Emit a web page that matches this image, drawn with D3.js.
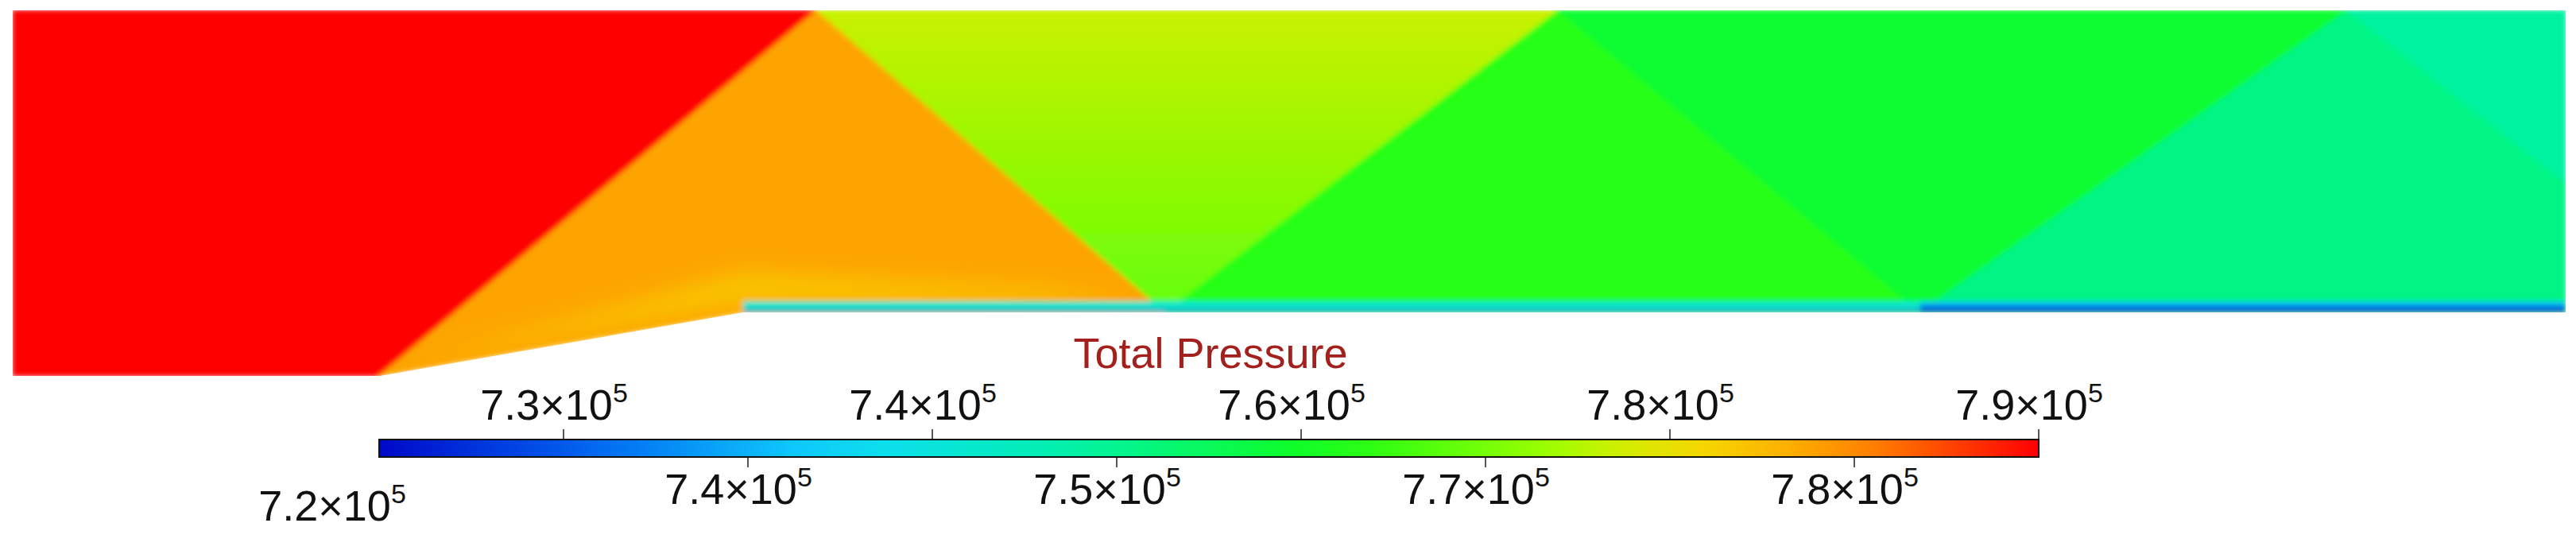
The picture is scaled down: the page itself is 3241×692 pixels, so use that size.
<!DOCTYPE html>
<html><head><meta charset="utf-8">
<script src="https://cdn.jsdelivr.net/npm/d3@7"></script>
<style>body{margin:0;background:#fff}svg{display:block}</style>
</head><body>
<script>
// ---- data (flow-field units: x 0..3212 along channel, y 0..460 height) ----
const domainOutline = [[0,460],[3212,460],[3212,80],[919,80],[462,0],[0,0]];
const regionNames  = ["freestream","shock1","reflected1","shock2","reflected2","shock3","reflected3"];
const regionValues = [7.90e5, 7.805e5, 7.72e5, 7.615e5, 7.58e5, 7.52e5, 7.50e5];
const regionBottomValues = [7.90e5, 7.805e5, 7.655e5, 7.615e5, 7.58e5, 7.52e5, 7.50e5];
const regionPolys = [
  [[0,460],[1012,460],[462,0],[0,0]],
  [[462,0],[1012,460],[1451,80],[919,80]],
  [[1012,460],[1945,460],[1451,80]],
  [[1451,80],[1945,460],[2400,80]],
  [[1945,460],[2938,460],[2400,80]],
  [[2400,80],[2938,460],[3212,243],[3212,80]],
  [[2938,460],[3212,460],[3212,243]]
];
const expansionPoly = [[500,20],[700,70],[919,130],[1300,110],[1420,95],[919,93]];
const expansionValue = 7.77e5;
const wallLayerX = [919, 2400, 3212];
const wallLayerTop = [7.47e5, 7.42e5];
const wallLayerBottom = [7.40e5, 7.20e5];
const cbDomain = [7.2e5, 7.9e5];
const topLabels = ["7.3","7.4","7.6","7.8","7.9"];
const bottomLabels = ["7.2","7.4","7.5","7.7","7.8"];
const title = "Total Pressure";

// ---- drawing ----
const W=3241,H=692;
const svg=d3.select("body").append("svg").attr("width",W).attr("height",H);
const x=d3.scaleLinear().domain([0,3212]).range([16,3228]);
const y=d3.scaleLinear().domain([0,460]).range([473,13]);
const color=d3.scaleLinear()
  .domain([0,0.12,0.27,0.42,0.57,0.70,0.78,0.88,1].map(t=>cbDomain[0]+t*(cbDomain[1]-cbDomain[0])))
  .range(["#0008c8","#0060f0","#10d8ff","#00f2a8","#10ff18","#98ff00","#f4e400","#ff9800","#ff0000"])
  .clamp(true);
const defs=svg.append("defs");
const line=d3.line().x(d=>x(d[0])).y(d=>y(d[1]));
defs.append("clipPath").attr("id","dom").append("path").attr("d",line(domainOutline)+"Z");
defs.append("filter").attr("id","blur").attr("x","-5%").attr("y","-5%").attr("width","110%").attr("height","110%")
  .append("feGaussianBlur").attr("stdDeviation",3);
defs.append("filter").attr("id","blur2").attr("x","-20%").attr("y","-50%").attr("width","140%").attr("height","200%")
  .append("feGaussianBlur").attr("stdDeviation",14);
const field=svg.append("g").attr("clip-path","url(#dom)").append("g").attr("filter","url(#blur)");
regionPolys.forEach((p,i)=>{
  const gid="rg"+i;
  const ys=p.map(d=>d[1]);
  const g=defs.append("linearGradient").attr("id",gid).attr("gradientUnits","userSpaceOnUse")
    .attr("x1",0).attr("x2",0).attr("y1",y(d3.max(ys))).attr("y2",y(d3.min(ys)));
  g.append("stop").attr("offset","0%").attr("stop-color",color(regionValues[i]));
  g.append("stop").attr("offset","100%").attr("stop-color",color(regionBottomValues[i]));
  field.append("path").attr("d",line(p)+"Z").attr("fill","url(#"+gid+")")
    .attr("stroke","url(#"+gid+")").attr("stroke-width",2);
});
field.append("path").attr("d",line(expansionPoly)+"Z").attr("fill",color(expansionValue)).attr("filter","url(#blur2)").attr("opacity",0.9);
// wall boundary layer
for(let i=0;i<2;i++){
  const gid="wl"+i;
  const g=defs.append("linearGradient").attr("id",gid).attr("x1",0).attr("x2",0).attr("y1",0).attr("y2",1);
  g.append("stop").attr("offset","0%").attr("stop-color",color(wallLayerTop[i]));
  g.append("stop").attr("offset","55%").attr("stop-color",color((wallLayerTop[i]+wallLayerBottom[i])/2));
  g.append("stop").attr("offset","100%").attr("stop-color",d3.color(color(wallLayerBottom[i])).darker(1.3));
  field.append("rect").attr("x",x(wallLayerX[i])).attr("width",x(wallLayerX[i+1])-x(wallLayerX[i]))
    .attr("y",y(94)).attr("height",y(80)-y(94)).attr("fill","url(#"+gid+")");
}
// colorbar
const cg=defs.append("linearGradient").attr("id","cb");
d3.range(0,1.0001,0.05).forEach(t=>cg.append("stop").attr("offset",(t*100)+"%").attr("stop-color",color(cbDomain[0]+t*(cbDomain[1]-cbDomain[0]))));
svg.append("rect").attr("x",477).attr("y",553).attr("width",2088).attr("height",22)
  .attr("fill","url(#cb)").attr("stroke","#111").attr("stroke-width",2);
const tickX=d3.range(10).map(i=>477+i*(2088/9));
tickX.forEach((tx,i)=>{
  if(i===0) return;
  const top=i%2===1;
  svg.append("line").attr("x1",tx).attr("x2",tx).attr("y1",top?540:575).attr("y2",top?553:588).attr("stroke","#222").attr("stroke-width",1.5);
});
function label(txt,cx,by){
  const t=svg.append("text").attr("x",cx).attr("y",by).attr("text-anchor","middle")
    .attr("font-family","Liberation Sans, Arial, sans-serif").attr("font-size",54).attr("fill","#111");
  t.append("tspan").text(txt+"\u00d710");
  t.append("tspan").attr("dy",-22).attr("font-size",34).text("5");
}
topLabels.forEach((l,i)=>label(l,tickX[2*i+1]-12,528));
bottomLabels.forEach((l,i)=>{ if(i===0) label(l,418,655); else label(l,tickX[2*i]-12,634); });
svg.append("text").attr("x",1523).attr("y",463).attr("text-anchor","middle")
  .attr("font-family","Liberation Sans, Arial, sans-serif").attr("font-size",54).attr("fill","#a3201c").text(title);
</script>
</body></html>
